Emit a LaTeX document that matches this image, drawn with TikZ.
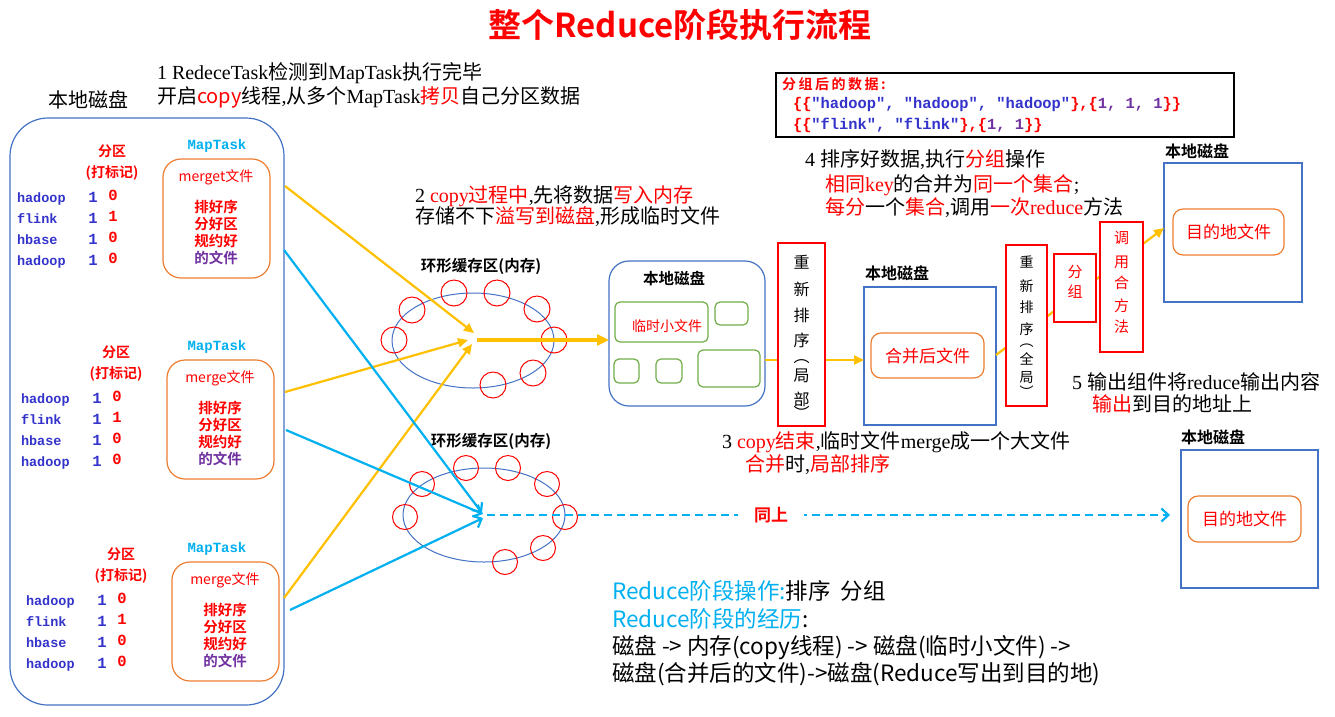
\documentclass[tikz,border=0pt]{standalone}
\usepackage{fontspec}
\setmainfont{Noto Sans CJK SC}[BoldFont={Noto Sans CJK SC Bold}]
\newfontfamily\mylatf{Liberation Serif}
\newfontfamily\mymono{Liberation Mono}
\usetikzlibrary{arrows.meta,shapes.geometric}
\newcommand\mylat[1]{{\mylatf #1}}
\newcommand\fsz[1]{\fontsize{#1}{#1}\selectfont}
\newcommand\rowfont{\mymono\bfseries\fsz{13.5}}
\newcommand\digfont{\mymono\bfseries\fsz{15.5}}
\definecolor{cred}{RGB}{255,0,0}
\definecolor{ccyan}{RGB}{0,176,240}
\definecolor{corange}{RGB}{237,125,49}
\definecolor{cblue}{RGB}{68,114,196}
\definecolor{cgreen}{RGB}{112,173,71}
\definecolor{cyel}{RGB}{255,192,0}
\definecolor{cpurple}{RGB}{112,48,160}
\definecolor{crow}{RGB}{51,51,204}
\newcommand\mrow[5]{%
  \node[anchor=base west, crow, font=\rowfont] (#1w) at (17,#2) {#3};
  \node[anchor=base, crow, font=\digfont] (#1a) at (93,#2) {#4};
  \node[anchor=base, cred, font=\digfont] (#1b) at (113,#2-1.5) {#5};}
\newcommand\mapgrp[4]{%
\begin{scope}[shift={(#2,#3)}]
  \node[ctr, cred, font=\bfseries\fsz{14}] (#1fq) at (112,151) {分区};
  \node[ctr, cred, font=\bfseries\fsz{14}] (#1bj) at (112,173) {(打标记)};
  \node[ctr, ccyan, font=\mymono\bfseries\fsz{14}] (#1mt) at (217-#2,146) {MapTask};
  \node[obox=18pt, minimum width=107pt, minimum height=119pt] (#1box) at (216.5,218.5) {};
  \node[ctr, cred, font=\fsz{14}] (#1f) at (216,177) {#4文件};
  \node[ctr, cred, font=\bfseries\fsz{14.5}] (#1s1) at (216,207) {排好序};
  \node[ctr, cred, font=\bfseries\fsz{14.5}] (#1s2) at (216,224) {分好区};
  \node[ctr, cred, font=\bfseries\fsz{14.5}] (#1s3) at (216,241) {规约好};
  \node[ctr, cpurple, font=\bfseries\fsz{14.5}] (#1s4) at (216,258) {的文件};
  \mrow{#1r1}{202}{hadoop}{1}{0}
  \mrow{#1r2}{223}{flink}{1}{1}
  \mrow{#1r3}{244}{hbase}{1}{0}
  \mrow{#1r4}{265}{hadoop}{1}{0}
\end{scope}}
\begin{document}
\begin{tikzpicture}[x=1pt,y=-1pt,
  every node/.style={inner sep=0pt, outer sep=0pt},
  ctr/.style={anchor=center},
  lbl/.style={anchor=base west},
  rdisk/.style={draw=cblue, line width=1.2pt, rounded corners=#1},
  sdisk/.style={draw=cblue, line width=1.3pt},
  obox/.style={draw=corange, line width=1.2pt, rounded corners=#1},
  gbox/.style={draw=cgreen, line width=1.2pt, rounded corners=5pt},
  rbox/.style={draw=cred, line width=1.3pt, fill=white},
  ring/.style={ellipse, draw=cblue, line width=1pt},
  rcirc/.style={circle, draw=cred, line width=1pt, minimum size=#1},
  yarr/.style={draw=cyel, line width=2.2pt, -{Triangle[length=10pt,width=9pt]}},
  yarrt/.style={draw=cyel, line width=3.2pt, -{Triangle[length=12pt,width=11pt]}},
  barr/.style={draw=ccyan, line width=2.2pt, -{Straight Barb[length=7pt,width=13pt]}},
  ann/.style={lbl, font=\fsz{20}},
  btxt/.style={lbl, font=\fsz{22.5}},
]
\useasboundingbox (0,0) rectangle (1335,716);
\fill[white] (0,0) rectangle (1335,716);

% title
\node[ctr, cred, font=\bfseries\fsz{33}] (title) at (680,25) {整个Reduce阶段执行流程};

% annotations
\node[ann] (a1a) at (157,79.5) {\mylat{1 RedeceTask}检测到\mylat{MapTask}执行完毕};
\node[ann] (a1b) at (157,103) {开启{\color{cred}copy}线程\mylat{,}从多个\mylat{MapTask}{\color{cred}拷贝}自己分区数据};
\node[ann] (a2a) at (415,202.5) {\mylat{2 }{\color{cred}\mylat{copy}过程中}\mylat{,}先将数据{\color{cred}写入内存}};
\node[ann] (a2b) at (415,223.5) {存储不下{\color{cred}溢写到磁盘}\mylat{,}形成临时文件};
\node[ann] (a3a) at (722,448.5) {\mylat{3 }{\color{cred}\mylat{copy}结束}\mylat{,}临时文件\mylat{merge}成一个大文件};
\node[ann] (a3b) at (745,471.5) {{\color{cred}合并}时\mylat{,}{\color{cred}局部排序}};
\node[ann] (a4a) at (805,166.5) {\mylat{4 }排序好数据\mylat{,}执行{\color{cred}分组}操作};
\node[ann] (a4b) at (825,191.5) {{\color{cred}相同\mylat{key}}的合并为{\color{cred}同一个集合}\mylat{;}};
\node[ann] (a4c) at (825,214.5) {{\color{cred}每分}一个{\color{cred}集合}\mylat{,}调用{\color{cred}一次\mylat{reduce}}方法};
\node[ann] (a5a) at (1072,389.5) {\mylat{5 }输出组件将\mylat{reduce}输出内容};
\node[ann] (a5b) at (1092,411.5) {{\color{cred}输出}到目的地址上};

% left disk with map tasks
\node[ctr, font=\fsz{20}] (disk0l) at (88,100) {本地磁盘};
\node[rdisk=38pt, minimum width=274pt, minimum height=587pt] (disk0) at (147,411.5) {};
\mapgrp{ga}{0}{0}{merget}
\mapgrp{gb}{4}{201}{merge}
\mapgrp{gc}{9}{403}{merge}

% ring buffer 1
\node[ctr, font=\bfseries\fsz{15.5}] (ring1l) at (481,266) {环形缓存区(内存)};
\node[ring, minimum width=162pt, minimum height=95pt] (ring1) at (473,340.5) {};
\foreach \p [count=\i] in {(412,310),(454,293),(497,293),(537,309),(554,340),(533,373),(493,385),(394,340)}
  \node[rcirc=26pt] (ca\i) at \p {};

% ring buffer 2
\node[ctr, font=\bfseries\fsz{15.5}] (ring2l) at (491,441) {环形缓存区(内存)};
\node[ring, minimum width=162pt, minimum height=94pt] (ring2) at (484,515) {};
\foreach \p [count=\i] in {(422,484),(466,468),(508,468),(547,484),(565,517),(543,548),(505,562),(405,517)}
  \node[rcirc=25pt] (cb\i) at \p {};

% arrows into ring buffers
\coordinate (ya) at (285,186); \coordinate (yb) at (285,392); \coordinate (yc) at (284,598);
\coordinate (ta) at (474,333); \coordinate (tb) at (468,340); \coordinate (tc) at (472,344);
\coordinate (ba) at (284,250); \coordinate (bb) at (286,430); \coordinate (bc) at (290,610);
\coordinate (ua) at (482,513); \coordinate (ub) at (483,514); \coordinate (uc) at (483,518);
\draw[yarr] (ya) -- (ta);
\draw[yarr] (yb) -- (tb);
\draw[yarr] (yc) -- (tc);
\draw[barr] (ba) -- (ua);
\draw[barr] (bb) -- (ub);
\draw[barr] (bc) -- (uc);

% disk 2 with temp files
\node[rdisk=20pt, minimum width=156pt, minimum height=145pt] (disk2) at (687,333.5) {};
\node[ctr, font=\bfseries\fsz{15.5}] (disk2l) at (674,279) {本地磁盘};
\node[gbox, minimum width=93pt, minimum height=40pt] (gt) at (661.5,322) {};
\node[ctr, cred, font=\fsz{14}] (gtl) at (667,326) {临时小文件};
\node[gbox, minimum width=33pt, minimum height=23pt] (gs1) at (731.5,313.5) {};
\node[gbox, minimum width=25pt, minimum height=24pt] (gs2) at (626.5,371) {};
\node[gbox, minimum width=26pt, minimum height=24pt] (gs3) at (669,371) {};
\node[gbox, minimum width=62pt, minimum height=37pt] (gs4) at (729,368.5) {};

\coordinate (r1o) at (477,340);
\draw[yarrt] (r1o) -- (r1o -| disk2.west);

% disk 3 (merged)
\node[ctr, font=\bfseries\fsz{16}] (disk3l) at (897,273) {本地磁盘};
\node[sdisk, minimum width=132pt, minimum height=138pt] (disk3) at (930,356) {};
\node[obox=10pt, minimum width=113pt, minimum height=45pt] (mf) at (927.5,355.5) {};
\node[ctr, cred, font=\fsz{17}] (mfl) at (927.5,356) {合并后文件};

% top right destination
\node[ctr, font=\bfseries\fsz{16}] (disk4l) at (1197,151) {本地磁盘};
\node[sdisk, minimum width=138pt, minimum height=139pt] (disk4) at (1233,232.5) {};
\node[obox=10pt, minimum width=111pt, minimum height=46pt] (df1) at (1228.5,232) {};
\node[ctr, cred, font=\fsz{17}] (df1l) at (1228.5,232) {目的地文件};

% bottom right destination
\node[ctr, font=\bfseries\fsz{16}] (disk5l) at (1213,437) {本地磁盘};
\node[sdisk, minimum width=137pt, minimum height=138pt] (disk5) at (1249.5,519) {};
\node[obox=10pt, minimum width=113pt, minimum height=46pt] (df2) at (1244.5,519) {};
\node[ctr, cred, font=\fsz{17}] (df2l) at (1244.5,519) {目的地文件};

% yellow flow arrows behind red boxes
\coordinate (m1) at (800,360);
\draw[yarr] (disk2.east |- m1) -- (disk3.west |- m1);
\coordinate (m2) at (1000,355); \coordinate (m3) at (1100,228);
\draw[yarr] (disk3.east |- m2) -- (disk4.west |- m3);

% red vertical boxes
\node[rbox, minimum width=47pt, minimum height=183pt] (sort1) at (801.5,334.5) {};
\foreach \c/\yy [count=\i] in {重/262,新/289,排/315,序/340,︵/362,局/376,部/399,︶/413}
  \node[ctr, font=\fsz{16}] (sa\i) at (801.5,\yy) {\c};
\node[rbox, minimum width=41pt, minimum height=161pt] (sort2) at (1026.5,325.5) {};
\foreach \c/\yy [count=\i] in {重/262,新/286,排/307,序/329,︵/346,全/359,局/378,︶/392}
  \node[ctr, font=\fsz{14}] (sb\i) at (1026.5,\yy) {\c};
\node[rbox, minimum width=42pt, minimum height=68pt] (grp) at (1075,288) {};
\node[ctr, cred, font=\fsz{15}] (grp1) at (1075,272) {分};
\node[ctr, cred, font=\fsz{15}] (grp2) at (1075,292) {组};
\node[rbox, minimum width=43pt, minimum height=130pt] (call) at (1121.5,287) {};
\foreach \c/\yy [count=\i] in {调/238,用/262,合/283,方/306,法/327}
  \node[ctr, cred, font=\fsz{15}] (sc\i) at (1121.5,\yy) {\c};

% dashed "same as above"
\coordinate (r2o) at (487,515);
\draw[barr, dash pattern=on 8pt off 5pt, shorten >=11pt] (r2o) -- (disk5.west |- r2o);
\node[ctr, cred, fill=white, inner xsep=16pt, inner ysep=3pt, font=\bfseries\fsz{17}] (same) at (771,515) {同上};

% grouped data box
\node[draw=black, line width=1.2pt, minimum width=458pt, minimum height=64pt] (data) at (1005,105) {};
\node[anchor=west, cred, font=\bfseries\fsz{14}\addfontfeature{LetterSpace=18}] (data0) at (782,84) {分组后的数据:};
\node[anchor=west, font=\mymono\bfseries\fsz{15.4}] (data1) at (793,105) {{\color{cred}\{\{}{\color{crow}"hadoop", "hadoop", "hadoop"}{\color{cred}\},\{}{\color{cpurple}1, 1, 1}{\color{cred}\}\}}};
\node[anchor=west, font=\mymono\bfseries\fsz{15.4}] (data2) at (793,125) {{\color{cred}\{\{}{\color{crow}"flink", "flink"}{\color{cred}\},\{}{\color{cpurple}1, 1}{\color{cred}\}\}}};

% bottom summary
\node[btxt] (s1) at (612,599) {{\color{ccyan}Reduce阶段操作:}排序\ \ 分组};
\node[btxt] (s2) at (612,627) {{\color{ccyan}Reduce阶段的经历}:};
\node[btxt] (s3) at (612,654) {磁盘 -> 内存(copy线程) -> 磁盘(临时小文件) ->};
\node[btxt] (s4) at (612,681) {磁盘(合并后的文件)->磁盘(Reduce写出到目的地)};
\end{tikzpicture}
\end{document}
